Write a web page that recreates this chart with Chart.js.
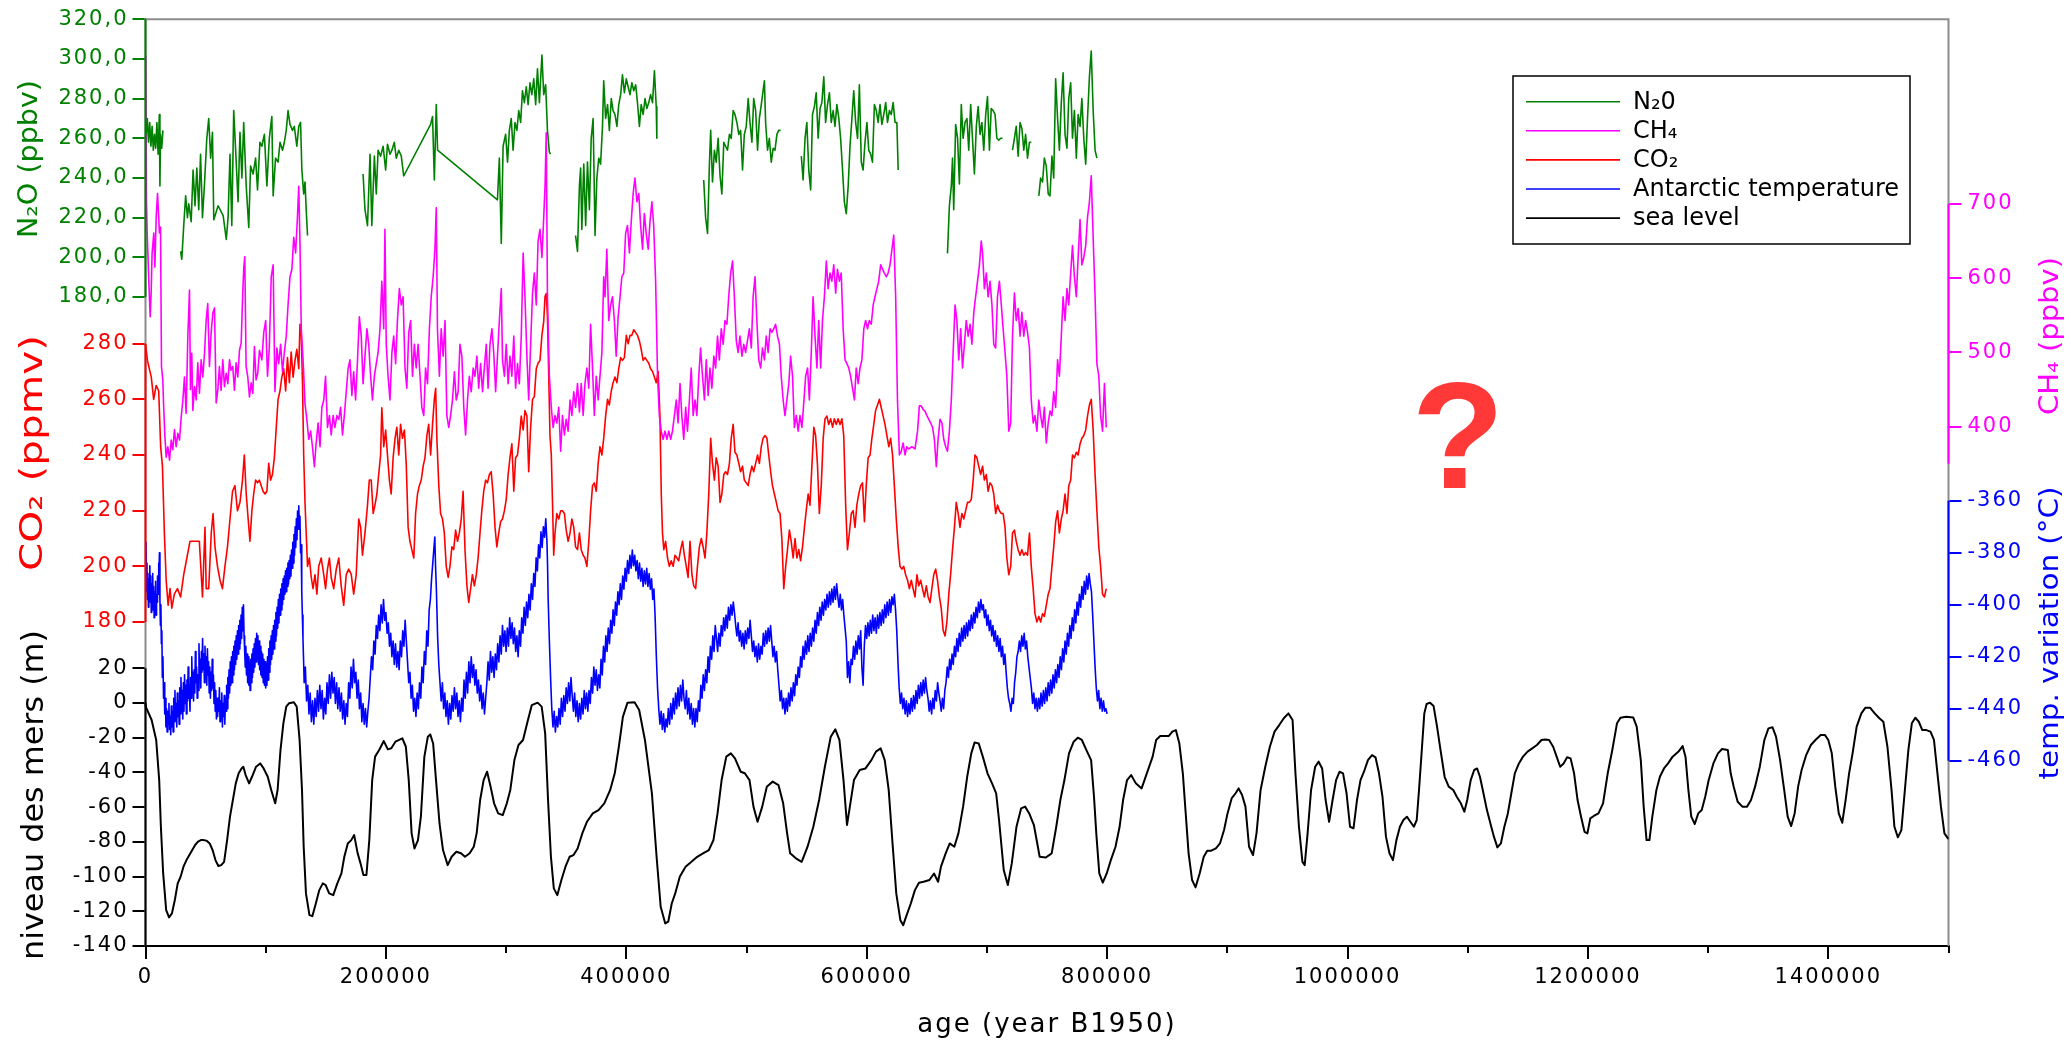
<!DOCTYPE html>
<html>
<head>
<meta charset="utf-8">
<script src="https://cdn.jsdelivr.net/npm/chart.js@4.4.1/dist/chart.umd.min.js"></script>
<style>
html,body{margin:0;padding:0;background:#ffffff;}
#wrap{width:2071px;height:1042px;position:relative;}
</style>
</head>
<body>
<div id="wrap"><canvas id="c"></canvas></div>
<script>
// ---------- series labels ----------
const seriesLabels = ['N\u20820', 'CH\u2084', 'CO\u2082', 'Antarctic temperature', 'sea level'];

// ---------- tick labels ----------
const n2oTicks = [180, 200, 220, 240, 260, 280, 300, 320];
const co2Ticks = [180, 200, 220, 240, 260, 280];
const seaTicks = [-140, -120, -100, -80, -60, -40, -20, 0, 20];
const ch4Ticks = [400, 500, 600, 700];
const tempTicks = [-460, -440, -420, -400, -380, -360];
const ageMajorTicks = [0, 200000, 400000, 600000, 800000, 1000000, 1200000, 1400000];
const ageMinorTicks = [0, 100000, 200000, 300000, 400000, 500000, 600000, 700000, 800000, 900000, 1000000, 1100000, 1200000, 1300000, 1400000, 1500000];

// ---------- series values: [age (kyr B1950), value] ----------
const n2oPoints = [
[0.5,262],[1.5,270],[2.5,258],[3.5,268],[4.5,256],[5.5,266],[6.5,254],[7.5,262],[8.5,255],[9.5,268],[10.5,252],[11.5,272],[12,236],[12.5,262],[13.5,255],[14.5,264],
[20,null],
[29.2,203],[30.2,199],[31.8,216],[33.4,231],[34.9,220],[36,227],[38,218],[39.6,244],[41.2,226],[42.7,245],[44.3,224],[45.8,252],[47.4,220],[49,236],[51,260],[52.6,270],[54.2,250],[55.7,263],[56.8,219],[60.4,226],[64.6,221],[67.2,209],[68.7,220],[70.3,252],[71.8,216],[73.4,274],[75,254],[77,228],[78.6,263],[80.2,240],[81.7,268],[83.8,236],[85.9,215],[87.4,246],[89.5,242],[91.6,250],[93.2,234],[95.2,258],[96.8,256],[98.9,262],[101,236],[103,260],[105.1,271],[106.2,231],[108.2,250],[110.3,248],[111.9,258],[114,254],[115.5,258],[117.1,264],[118.6,274],[120.2,267],[122.3,264],[123.8,266],[125.9,256],[127.5,266],[129,268],[130.1,244],[131.6,232],[132.7,238],[133.7,224],[134.8,211],
[150,null],
[181,242],[182.6,224],[184.7,216],[186.8,252],[188.3,216],[190.4,251],[192,232],[193.5,254],[195.6,251],[197.7,256],[199.8,244],[201.3,257],[203.4,252],[205,254],[207,258],[208.6,250],[210.7,254],[212.8,251],[214.8,241],[237.2,267],[238.8,271],[240.3,239],[241.9,277],[243,254],[292.8,229],[294.4,250],[296,207],[297.5,256],[299.6,262],[301.2,248],[302.7,264],[304.3,270],[305.8,254],[307.4,268],[309,264],[310.5,274],[312.1,268],[313.6,284],[315.2,278],[316.8,286],[318.3,277],[319.9,288],[321.4,282],[323,290],[324.6,277],[326.1,295],[327.7,278],[329.8,302],[331.3,282],[332.9,287],[334.4,264],[336,253],[337,252],
[345,null],
[357.8,211],[359.4,203],[361,236],[362,245],[363,214],[364.6,247],[366.2,216],[367.7,248],[369.3,224],[370.8,260],[372.4,270],[374,211],[375.5,240],[377.1,250],[378.6,247],[380.2,266],[381.2,289],[382.8,270],[384.4,277],[385.9,264],[387.5,280],[389,274],[390.6,272],[392.2,266],[393.7,277],[395.3,282],[396.8,292],[398.4,283],[400,290],[401.5,286],[403.1,282],[404.6,288],[406.2,284],[407.8,287],[409.3,278],[410.9,266],[412.4,277],[414,272],[415.6,280],[417.1,275],[418.7,278],[420.2,282],[421.8,278],[423.4,294],[424.9,276],[425.4,260],
[445,null],
[464.4,239],[466,220],[467.6,212],[469.1,246],[470.2,264],[471.7,238],[473.3,254],[474.8,248],[476.4,260],[478,241],[479.5,232],[481.1,258],[482.6,256],[484.2,254],[485.8,262],[487.3,260],[488.9,274],[490.4,272],[492,268],[493.6,262],[495.1,264],[496.7,244],[498.2,262],[499.8,266],[501.4,280],[502.9,268],[504.5,258],[506,280],[507.6,274],[509.2,254],[510.7,270],[512.3,277],[513.8,284],[514.9,289],[515.9,268],[517.5,254],[519,260],[520.6,248],[522.2,255],[523.7,254],[525.3,262],[526.8,264],[528.4,264],
[537,null],
[545.6,251],[547.1,239],[548.7,260],[550.2,268],[551.8,244],[553.4,234],[554.9,272],[556.5,276],[558,283],[559.6,260],[561.2,275],[562.7,278],[564.3,291],[565.8,268],[567.4,277],[569,283],[570.5,268],[572.1,274],[573.6,266],[575.2,277],[576.8,270],[578.3,260],[579.9,244],[581.4,228],[583,222],[584.6,236],[586.1,256],[587.7,270],[589.2,284],[590.8,268],[592.4,260],[593.9,287],[595.5,248],[597,244],[598.6,258],[600.2,268],[601.7,254],[603.3,252],[604.8,248],[606.4,277],[608,274],[609.5,268],[611.1,277],[612.6,267],[614.2,272],[615.8,278],[617.3,268],[618.9,274],[620.4,272],[622,278],[623.6,268],[625.1,268],[626.2,244],
[645,null],
[667.2,202],[668.8,226],[670.4,236],[671.4,250],[672.4,224],[674,267],[675.6,260],[677.1,237],[678.7,277],[680.2,260],[681.8,268],[683.4,270],[684.9,254],[686.5,277],[688,260],[689.6,242],[691.2,266],[692.7,276],[694.3,262],[695.8,268],[697.4,254],[699,272],[700.5,281],[702.1,254],[703.6,275],[705.2,274],[706.8,272],[708.3,260],[709.9,259],[711.4,260],[713,260],
[717,null],
[721.3,254],[722.9,260],[724.4,266],[726,251],[727.6,268],[729.1,265],[730.7,254],[732.2,262],[733.8,250],[735.4,258],[736.9,258],
[740,null],
[743.2,231],[744.7,240],[746.3,238],[747.8,250],[749.4,246],[751,232],[752.5,231],[754.1,251],[755.6,240],[757.2,290],[758.8,270],[760.3,254],[761.9,278],[763.4,293],[765,262],[766.6,255],[768.1,280],[769.7,288],[771.2,260],[772.8,274],[774.4,250],[775.9,272],[777.5,266],[779,280],[780.6,260],[782.2,247],[783.7,270],[785.3,291],[786.8,304],[788.4,274],[790,254],[791.5,250]
];

const ch4Points = [
[0.2,900],[0.8,705],[1.4,661],[2.8,594],[3.9,548],[4.7,580],[5.5,634],[6.9,661],[7.8,615],[8.9,683],[10,714],[10.8,688],[11.6,661],[12.5,669],[13.3,481],[14.4,463],[15,432],[16,391],[17.2,359],[18.6,373],[20,355],[21.4,382],[22.7,369],[24.1,396],[25.5,373],[26.9,391],[28.3,382],[29.7,413],[31.1,436],[32.4,467],[33.8,418],[35.2,521],[36.6,584],[37.4,450],[38.5,499],[39.4,422],[40.8,454],[42.2,436],[43.5,486],[44.9,445],[46.3,490],[47.7,467],[49.1,499],[50.5,544],[51.8,566],[53.2,481],[54.6,526],[56,553],[57.4,560],[58.8,432],[60.2,450],[61.5,481],[62.9,449],[64.3,490],[65.7,454],[67.1,472],[68.5,458],[69.9,490],[71.2,476],[72.6,481],[74,449],[75.4,486],[76.8,467],[78.2,503],[79.6,513],[80.9,580],[81.8,615],[82.6,629],[83.7,481],[85.1,467],[86.5,440],[87.9,459],[89.3,445],[90.6,508],[92,463],[93.4,472],[94.8,503],
[96.8,490],[98.4,527],[100,543],[101.5,468],[103,506],[104.6,602],[106.2,618],[107.7,447],[109.3,506],[110.8,485],[112.4,511],[114,474],[115.5,500],[117.1,522],[118.6,564],[120.2,602],[121.8,612],[123.3,655],[124.9,634],[126.4,682],[127.5,724],[128.5,650],[129.6,532],[131.1,490],[132.7,431],[134.2,410],[135.8,383],[137.4,394],[138.9,373],[140.5,346],[142,378],[143.6,405],[145.2,373],[146.7,426],[148.3,436],[149.8,468],[151.4,399],[153,415],[154.5,389],[156.1,415],[157.6,399],[159.2,415],[160.8,410],[162.3,426],[163.9,389],[165.4,415],[167,447],[168.6,479],[170.1,490],[171.7,442],[173.2,474],[174.8,436],[176.4,490],[177.9,548],[179.5,522],[181,458],[182.6,495],[184.2,532],[185.7,511],[187.3,468],[188.8,436],[190.4,468],[192,485],[193.5,500],[195.1,532],[196.6,596],[198.2,532],[199.2,666],[200.3,511],[201.8,468],[203.4,436],[205,500],[206.5,522],[208.1,485],[209.6,543],[211.2,586],[212.8,564],[214.3,575],[215.9,479],[217.4,452],[219,527],[220.6,543],[222.1,468],[223.7,511],[225.2,479],[226.8,511],[228.4,468],[229.9,426],[231.5,415],[233,479],[234.6,458],[236.2,532],[237.7,575],[239.3,602],[240.8,639],[241.9,695],[242.9,532],[244.5,468],[246,532],[247.6,495],[249.2,543],[250.7,415],[252.3,399],[253.8,415],[255.4,436],[257,474],[258.5,436],[260.1,447],[261.6,511],[263.2,495],[264.8,426],[266.3,389],[267.9,436],[269.4,468],[271,447],[272.6,479],[274.1,468],[275.7,495],[277.2,452],[278.8,485],[280.4,447],[281.9,479],[283.5,511],[285,452],[286.6,511],[288.2,532],[289.7,500],[291.3,447],[292.8,495],[294.4,543],[296,586],[297,490],[298.6,468],[300.1,511],[301.7,458],[303.2,495],[304.8,468],[306.4,522],[307.9,452],[309.5,485],[311,458],[312.6,522],[314.2,634],[315.7,575],[317.3,495],[318.8,436],[320.4,511],[322,580],[323.5,607],[325.1,564],[326.6,650],[328.2,666],[329.8,628],[331.3,682],[332.4,724],[333.4,796],[334.4,575],[336,468],[337.6,426],[339.1,399],[340.7,415],[342.2,405],[343.8,426],[345.4,367],[346.9,415],[348.5,389],[350,410],[351.6,394],[353.2,436],[354.7,415],[356.3,447],[357.8,426],[359.4,458],[361,420],[362.5,458],[364.1,415],[365.6,458],[367.2,479],[368.8,452],[370.3,538],[371.9,479],[373.4,415],[375,468],[376.6,436],[378.1,468],[379.7,500],[381.2,602],[382.3,575],[383.8,639],[385.4,543],[387,564],[388.5,575],[390.1,543],[391.6,495],[393.2,548],[394.8,575],[396.3,602],[397.9,607],[399.4,660],[401,671],[402.6,634],[404.1,676],[405.7,714],[407.2,735],[408.8,703],[410.4,714],[411.9,671],[413.5,639],[415,687],[416.6,660],[418.2,639],[419.7,676],[421.3,703],[422.8,671],[424.4,596],[426,468],[427.5,415],[429.1,394],[430.6,383],[432.2,394],[433.8,383],[435.3,394],[436.9,383],[438.4,394],[440,415],[441.6,436],[443.1,405],[444.7,458],[446.2,415],[447.8,383],[449.4,426],[450.9,394],[452.5,436],[454,479],[455.6,415],[457.2,436],[458.7,415],[460.3,468],[461.8,506],[463.4,468],[465,436],[466.5,490],[468.1,442],[469.6,479],[471.2,452],[472.8,495],[474.3,479],[475.9,522],[477.4,490],[479,532],[480.6,511],[482.1,543],[483.7,538],[485.2,575],[486.8,607],[488.4,623],[489.9,575],[491.5,516],[493,500],[494.6,522],[496.2,495],[497.7,511],[499.3,500],[500.8,516],[502.4,532],[504,506],[505.5,575],[507.1,602],[508.6,543],[510.2,490],[511.8,479],[513.3,506],[514.9,490],[516.4,522],[518,500],[519.6,532],[521.1,527],[522.7,532],[524.2,538],[525.8,522],[527.4,511],[528.9,468],[530.5,436],[532,415],[533.6,436],[535.2,458],[536.7,495],[538.3,468],[539.8,399],[541.4,415],[543,394],[544.5,415],[546.1,399],[547.6,431],[549.2,468],[550.8,479],[552.3,436],[553.9,500],[555.4,575],[557,522],[558.6,479],[560.1,543],[561.7,479],[563.2,543],[564.8,575],[566.4,623],[567.9,586],[569.5,607],[571,596],[572.6,618],[574.2,580],[575.7,612],[577.3,596],[578.8,607],[580.4,532],[582,490],[583.5,485],[585.1,479],[586.6,468],[588.2,452],[589.8,436],[591.3,479],[592.9,458],[594.4,479],[596,490],[597.6,532],[599.1,543],[600.7,532],[602.2,543],[603.8,538],[605.4,564],[606.9,575],[608.5,586],[610,596],[611.6,618],[613.2,612],[614.7,607],[616.3,602],[617.8,607],[619.4,618],[621,639],[622.5,658],[624.1,575],[625.6,436],[627.2,362],[628.8,367],[630.3,378],[631.9,362],[633.4,373],[635,370],[637.6,373],[640.2,370],[642.3,394],[643.8,428],[645.4,428],[647,423],[648.5,421],[650.1,415],[651.6,410],[653.2,405],[654.8,399],[656.3,383],[657.9,346],[659.4,383],[661,410],[662.6,405],[664.1,383],[665.7,373],[667.2,367],[668.8,394],[670.4,436],[671.9,500],[673.5,564],[675,543],[676.6,490],[678.2,532],[679.7,479],[681.3,511],[682.8,543],[684.4,522],[686,538],[687.5,511],[689.1,554],[690.6,575],[692.2,596],[693.8,618],[695.3,650],[696.4,634],[697.9,586],[699.5,607],[701,575],[702.6,596],[704.2,564],[705.7,511],[707.3,506],[708.8,575],[710.4,596],[712,564],[713.5,532],[715.1,500],[716.6,468],[718.2,394],[719.8,405],[721.3,522],[722.9,580],[724.4,543],[726,559],[727.6,522],[729.1,554],[730.7,522],[732.2,543],[733.8,527],[735.4,506],[736.9,436],[738.5,405],[740,415],[741.6,394],[743.2,436],[744.7,415],[746.3,399],[747.8,426],[749.4,378],[751,405],[752.5,421],[754.1,415],[755.6,447],[757.2,426],[758.8,490],[760.3,468],[761.9,522],[763.4,575],[765,543],[766.6,586],[768.1,564],[769.7,607],[771.2,644],[772.8,602],[774.4,575],[775.9,628],[777.5,679],[779,618],[780.6,628],[782.2,644],[783.7,682],[785.3,703],[786.8,738],[788.4,655],[790,575],[791.5,485],[793.1,468],[794.6,415],[796.2,394],[797.8,458],[799.3,399]
];

const co2Points = [
[0,279.8],[1.6,274],[4.8,268],[6.8,260],[8.9,265],[11,263],[12.6,243],[14.1,236],[15.7,212],[17.2,195],[18.8,186],[20.4,192],[21.9,185],[24,190],[26.6,192],[29.2,189],[31.8,197],[34.4,203],[37,209],[39.6,209],[42.2,209],[44.8,209],[47.4,189],[49.5,214],[50.5,192],[52.6,192],[54.7,212],[56.2,219],[57.8,207],[59.9,200],[62,195],[64,192],[66.1,200],[68.2,207],[70.3,217],[72.4,227],[74.4,229],[76.5,220],[78.6,223],[80.7,231],[82.2,240],[83.8,226],[85.4,217],[86.9,209],[88.5,220],[90,226],[91.6,231],[93.2,230],[94.7,231],[96.3,229],[97.8,227],[99.4,226],[101,227],[102.5,237],[104.1,231],[105.6,233],[107.2,239],[108.8,250],[110.3,260],[111.9,263],[113.4,268],[115,271],[116.6,263],[118.1,275],[119.7,266],[121.2,277],[122.8,268],[124.4,274],[125.9,278],[127.5,271],[128.5,287],[129.6,283],[130.6,266],[131.6,240],[132.7,223],[133.7,212],[134.8,200],[136.3,203],[137.9,196],[139.4,192],[141,197],[142.6,190],[144.1,200],[146.2,203],[148.3,197],[149.8,192],[151.4,199],[153,203],[154.5,196],[156.6,192],[158.7,199],[160.8,203],[162.8,193],[164.9,186],[167,197],[169.1,199],[171.2,197],[173.2,190],[175.3,197],[177.4,217],[179,214],[180.5,204],[182.6,212],[184.7,222],[186.2,231],[187.8,231],[189.4,219],[190.9,222],[192.5,226],[194,233],[195.6,240],[196.6,257],[198.2,243],[199.8,249],[201.3,240],[202.9,231],[204.4,226],[206,239],[207.6,246],[209.1,250],[210.7,240],[212.2,251],[213.8,246],[215.4,249],[216.9,237],[218.5,214],[220,209],[221.6,206],[223.2,203],[224.7,219],[226.3,226],[227.8,229],[229.4,231],[231,236],[232.5,239],[234.1,247],[235.6,251],[237.2,240],[238.8,251],[240.3,260],[241.4,264],[242.4,246],[244,229],[245.5,219],[247.1,217],[248.6,212],[250.2,200],[251.8,196],[253.3,200],[254.9,207],[256.4,206],[258,213],[259.6,209],[261.1,212],[262.7,217],[264.2,227],[265.8,206],[267.4,193],[268.9,187],[270.5,192],[272,197],[273.6,193],[275.2,197],[276.7,203],[278.3,212],[279.8,220],[281.4,227],[283,231],[284.5,230],[286.1,233],[287.6,234],[289.2,226],[290.8,214],[292.3,207],[293.9,212],[295.4,216],[297,217],[298.6,220],[300.1,224],[301.7,233],[303.2,239],[304.8,244],[306.4,227],[307.9,239],[309.5,240],[311,246],[312.6,254],[314.2,249],[315.7,256],[317.3,254],[318.8,234],[320.4,250],[322,260],[323.5,261],[325.1,271],[326.6,273],[328.2,274],[329.8,283],[331.3,288],[332.4,297],[333.4,298],[334.4,290],[335.5,268],[336.5,247],[337.6,240],[338.6,223],[339.6,204],[340.7,212],[342.2,219],[343.8,217],[345.4,220],[346.9,220],[348.5,219],[350,213],[351.6,209],[353.2,212],[354.7,217],[356.3,214],[357.8,207],[359.4,206],[361,212],[362.5,206],[364.1,204],[365.6,203],[367.2,200],[368.8,209],[370.3,220],[371.9,229],[373.4,230],[375,227],[376.6,237],[378.1,243],[379.7,240],[381.2,246],[382.8,254],[384.4,260],[385.9,258],[387.5,263],[389,266],[390.6,268],[392.2,266],[393.7,271],[395.3,275],[396.8,274],[398.4,275],[400,283],[401.5,280],[403.1,283],[404.6,283],[406.2,285],[407.8,284],[409.3,283],[410.9,281],[412.4,278],[414,274],[415.6,275],[417.1,274],[418.7,273],[420.2,271],[421.8,270],[423.4,268],[424.9,266],[426.5,270],[428,254],[429.1,226],[430.1,212],[431.2,206],[432.7,209],[434.3,203],[435.8,200],[437.4,202],[439,200],[440.5,204],[442.1,203],[443.6,202],[445.2,206],[446.8,209],[448.3,204],[449.9,200],[451.4,196],[453,209],[454.6,197],[456.1,193],[457.7,192],[459.2,200],[460.8,207],[462.4,210],[463.9,207],[465.5,203],[467,212],[468.6,226],[470.2,246],[471.7,237],[473.3,231],[474.8,239],[476.4,236],[478,223],[479.5,226],[481.1,233],[482.6,234],[484.2,233],[485.8,237],[487.3,246],[488.9,251],[490.4,241],[492,240],[493.6,237],[495.1,234],[496.7,236],[498.2,231],[499.8,230],[501.4,229],[502.9,233],[504.5,236],[506,234],[507.6,237],[509.2,240],[510.7,237],[512.3,243],[513.8,246],[515.4,247],[517,246],[518.5,240],[520.1,234],[521.6,229],[523.2,226],[524.8,223],[526.3,220],[527.9,219],[529.4,210],[531,192],[532.6,200],[534.1,206],[535.7,213],[537.2,209],[538.8,203],[540.4,210],[541.9,203],[543.5,206],[545,202],[546.6,207],[548.2,214],[549.7,220],[551.3,226],[552.8,222],[554.4,236],[556,250],[557.5,247],[559.1,236],[560.6,219],[562.2,229],[563.8,246],[565.3,253],[566.9,254],[568.4,251],[570,253],[571.6,250],[573.1,253],[574.7,251],[576.2,253],[577.8,251],[579.4,253],[580.9,247],[582.5,222],[584,206],[585.6,212],[587.2,219],[588.7,220],[590.3,214],[591.8,222],[593.4,226],[595,229],[596.5,230],[598.1,216],[599.6,229],[601.2,239],[602.8,240],[604.3,246],[605.9,251],[607.4,256],[609,258],[610.6,260],[612.1,257],[613.7,254],[615.2,251],[616.8,247],[618.4,243],[619.9,246],[621.5,240],[623,229],[624.6,217],[626.2,207],[627.7,200],[629.3,199],[630.8,200],[632.4,197],[634,195],[635.5,192],[637.1,195],[638.6,192],[640.2,189],[641.8,197],[643.3,193],[644.9,195],[646.4,192],[648,189],[649.6,193],[651.1,189],[652.7,187],[654.2,192],[655.8,197],[657.4,199],[658.9,195],[660.5,189],[662,185],[663.6,177],[665.2,175],[666.7,180],[668.3,190],[669.8,197],[671.4,206],[673,214],[674.5,223],[676.1,219],[677.6,214],[679.2,219],[680.8,217],[682.3,220],[683.9,223],[685.4,223],[687,224],[688.6,231],[690.1,240],[691.7,239],[693.2,236],[694.8,233],[696.4,236],[697.9,231],[699.5,233],[701,227],[702.6,230],[704.2,229],[705.7,226],[707.3,219],[708.8,222],[710.4,220],[712,219],[713.5,219],[715.1,214],[716.6,203],[718.2,197],[719.8,200],[721.3,212],[722.9,213],[724.4,209],[726,206],[727.6,204],[729.1,206],[730.7,204],[732.2,205],[733.8,204],[735.4,212],[736.9,200],[738.5,192],[740,183],[741.6,180],[743.2,182],[744.7,180],[746.3,183],[747.8,182],[749.4,186],[751,190],[752.5,192],[754.1,200],[755.6,207],[757.2,216],[758.8,220],[760.3,212],[761.9,217],[763.4,220],[765,226],[766.6,219],[768.1,229],[769.7,231],[771.2,240],[772.8,239],[774.4,241],[775.9,240],[777.5,244],[779,246],[780.6,247],[782.2,249],[783.7,254],[785.3,258],[786.8,260],[788.4,249],[790,233],[791.5,220],[793.1,207],[794.6,200],[796.2,190],[797.8,189],[799.3,192]
];

const tempPoints = [
[0.1,-386],[0.4,-376],[0.8,-395],[1.2,-384],[1.6,-398],[2,-388],[2.4,-401],[2.8,-390],[3.2,-397],[3.6,-385],[4,-399],[4.4,-389],[4.8,-403],[5.2,-392],[5.6,-400],[6,-388],[6.4,-402],[6.8,-393],[7.2,-405],[7.6,-395],[8,-401],[8.4,-391],[8.8,-404],[9.2,-396],[9.6,-399],[10,-389],[10.4,-396],[10.8,-384],[11.2,-392],[11.6,-380],[12,-398],[12.4,-408],[12.8,-400],[13.2,-415],[13.6,-410],[14,-428],[14.5,-420],[15,-436],[15.5,-430],[16,-442],[16.5,-436],[17,-447],[17.5,-440],[18,-449],[18.5,-441],[19,-446],[19.5,-438],[20,-448],[20.5,-443],[21,-450],[21.5,-439],[22,-447],[22.5,-441],[23,-449],[23.5,-436],[24,-445],[24.5,-433],[25,-444],[25.5,-438],[26,-447],[26.5,-434],[27,-443],[27.5,-437],[28,-446],[28.5,-432],[29,-442],[29.5,-428],[30,-440],[30.5,-433],[31,-444],[31.5,-430],[32,-441],[32.5,-427],[33,-438],[33.5,-431],[34,-442],[34.5,-429],[35,-437],[35.5,-424],[36,-436],[36.5,-431],[37,-441],[37.5,-428],[38,-436],[38.5,-420],[39,-432],[39.5,-426],[40,-437],[40.5,-425],[41,-434],[41.5,-418],[42,-430],[42.5,-424],[43,-436],[43.5,-427],[44,-433],[44.5,-415],[45,-428],[45.5,-421],[46,-432],[46.5,-418],[47,-426],[47.5,-413],[48,-425],[48.5,-419],[49,-430],[49.5,-416],[50,-428],[50.5,-420],[51,-431],[51.5,-417],[52,-427],[52.5,-422],[53,-434],[53.5,-424],[54,-436],[54.5,-426],[55,-433],[55.5,-421],[56,-432],[56.5,-427],[57,-438],[57.5,-430],[58,-441],[58.5,-433],[59,-444],[59.5,-436],
[60,-443],[60.5,-436],[61,-441],[61.5,-432],[62,-445],[62.5,-437],[63,-442],[63.5,-434],[64,-447],[64.5,-438],[65,-443],[65.5,-435],[66,-446],[66.5,-436],[67,-441],[67.5,-431],[68,-440],[68.5,-428],[69,-436],[69.5,-425],[70,-434],[70.5,-422],[71,-431],[71.5,-420],[72,-430],[72.5,-418],[73,-427],[73.5,-416],[74,-425],[74.5,-414],[75,-423],[75.5,-412],[76,-421],[76.5,-410],[77,-419],[77.5,-408],[78,-417],[78.5,-406],[79,-415],[79.5,-404],[80,-413],[80.5,-401],[81,-410],[81.5,-400],[82,-412],[82.5,-418],[83,-424],[83.5,-416],[84,-427],[84.5,-419],[85,-430],[85.5,-420],[86,-431],[86.5,-422],[87,-433],[87.5,-421],[88,-430],[88.5,-419],[89,-428],[89.5,-417],[90,-426],[90.5,-415],[91,-424],[91.5,-413],[92,-422],[92.5,-411],[93,-421],[93.5,-412],[94,-423],[94.5,-414],[95,-425],[95.5,-416],[96,-427],[96.5,-418],[97,-428],[97.5,-419],[98,-430],[98.5,-421],[99,-431],[99.5,-422],[100,-432],[100.5,-423],[101,-431],[101.5,-420],[102,-429],[102.5,-417],[103,-426],[103.5,-414],[104,-423],[104.5,-412],[105,-421],[105.5,-410],[106,-419],[106.5,-408],[107,-417],[107.5,-406],[108,-414],[108.5,-403],[109,-412],[109.5,-401],[110,-409],[110.5,-398],[111,-407],[111.5,-396],[112,-404],[112.5,-394],[113,-402],[113.5,-392],[114,-400],[114.5,-390],[115,-398],[115.5,-389],[116,-396],[116.5,-387],[117,-395],[117.5,-386],[118,-393],[118.5,-384],[119,-392],[119.5,-383],[120,-390],[120.5,-381],[121,-389],[121.5,-379],[122,-386],[122.5,-376],[123,-384],[123.5,-373],[124,-381],[124.5,-370],[125,-378],[125.5,-367],[126,-375],[126.5,-364],[127,-371],[127.5,-362],[128,-369],[128.5,-366],[129,-380],[129.5,-377],[130,-395],[130.5,-404],[131,-413],[131.5,-421],[132,-430],[133,-424],[134,-437],[135,-431],[136,-442],[137,-434],[138,-445],[139,-437],[140,-446],[141,-436],[142,-443],[143,-433],[144,-441],[145,-431],[146,-440],[147,-433],[148,-444],[149,-436],[150,-442],[151,-430],[152,-438],[153,-427],[154,-436],[155,-426],[156,-434],[157,-428],[158,-438],[159,-430],[160,-440],[161,-432],[162,-441],[163,-434],[164,-444],[165,-437],[166,-446],[167,-438],[168,-443],[169,-430],[170,-436],[171,-424],[172,-432],[173,-421],[174,-430],[175,-426],[176,-436],[177,-429],[178,-440],[179,-434],[180,-445],[181,-438],[182,-446],[183,-440],[184,-447],[185,-441],[186,-436],[187,-428],[188,-420],[189,-425],[190,-414],[191,-419],[192,-408],[193,-413],[194,-404],[195,-410],[196,-400],[197,-407],[198,-398],[199,-406],[200,-403],[201,-411],[202,-407],[203,-416],[204,-411],[205,-420],[206,-414],[207,-423],[208,-415],[209,-424],[210,-418],[211,-425],[212,-414],[213,-420],[214,-410],[215,-416],[216,-406],[217,-414],[218,-422],[219,-430],[220,-426],[221,-436],[222,-431],[223,-441],[224,-436],[225,-443],[226,-434],[227,-440],[228,-430],[229,-436],[230,-424],[231,-430],[232,-418],[233,-423],[234,-410],[235,-416],[236,-402],[237,-398],[238,-390],[239,-384],[240,-378],[240.7,-374],[241.3,-385],[242,-394],[243,-412],[244,-423],[245,-430],[246,-437],[247,-430],[248,-440],[249,-434],[250,-443],[251,-437],[252,-446],[253,-438],[254,-444],[255,-435],[256,-441],[257,-432],[258,-440],[259,-434],[260,-443],[261,-437],[262,-445],[263,-436],[264,-441],[265,-429],[266,-436],[267,-426],[268,-434],[269,-422],[270,-430],[271,-420],[272,-428],[273,-423],[274,-431],[275,-425],[276,-434],[277,-429],[278,-437],[279,-431],[280,-440],[281,-434],[282,-442],[283,-436],[284,-430],[285,-422],[286,-429],[287,-418],[288,-426],[289,-420],[290,-428],[291,-419],[292,-425],[293,-415],[294,-422],[295,-412],[296,-419],[297,-408],[298,-416],[299,-410],[300,-418],[301,-409],[302,-416],[303,-405],[304,-413],[305,-407],[306,-415],[307,-409],[308,-418],[309,-412],[310,-420],[311,-410],[312,-416],[313,-405],[314,-411],[315,-401],[316,-408],[317,-399],[318,-405],[319,-396],[320,-402],[321,-392],[322,-398],[323,-388],[324,-393],[325,-382],[326,-387],[327,-377],[328,-382],[329,-372],[330,-378],[331,-370],[332,-374],[333,-367],[334,-376],[334.5,-385],[335,-398],[336,-414],[337,-428],[338,-440],[339,-447],[340,-441],[341,-449],[342,-443],[343,-447],[344,-440],[345,-446],[346,-436],[347,-443],[348,-435],[349,-441],[350,-432],[351,-438],[352,-430],[353,-437],[354,-428],[355,-435],[356,-441],[357,-434],[358,-443],[359,-437],[360,-445],[361,-438],[362,-444],[363,-436],[364,-442],[365,-433],[366,-440],[367,-434],[368,-441],[369,-433],[370,-438],[371,-428],[372,-434],[373,-424],[374,-431],[375,-425],[376,-433],[377,-427],[378,-432],[379,-421],[380,-427],[381,-416],[382,-422],[383,-412],[384,-418],[385,-409],[386,-415],[387,-406],[388,-411],[389,-402],[390,-408],[391,-399],[392,-404],[393,-395],[394,-400],[395,-392],[396,-398],[397,-389],[398,-394],[399,-386],[400,-391],[401,-383],[402,-388],[403,-381],[404,-386],[405,-379],[406,-385],[407,-381],[408,-387],[409,-383],[410,-390],[411,-384],[412,-391],[413,-386],[414,-393],[415,-387],[416,-392],[417,-386],[418,-393],[419,-388],[420,-394],[421,-390],[422,-398],[423,-394],[424,-405],[425,-420],[426,-432],[427,-440],[428,-446],[429,-441],[430,-448],[431,-442],[432,-449],[433,-444],[434,-447],[435,-440],[436,-446],[437,-438],[438,-444],[439,-436],[440,-442],[441,-434],[442,-440],[443,-432],[444,-439],[445,-431],[446,-437],[447,-429],[448,-436],[449,-440],[450,-433],[451,-442],[452,-436],[453,-444],[454,-438],[455,-446],[456,-440],[457,-447],[458,-440],[459,-445],[460,-437],[461,-441],[462,-431],[463,-436],[464,-427],[465,-433],[466,-425],[467,-430],[468,-420],[469,-426],[470,-416],[471,-421],[472,-412],[473,-418],[474,-408],[475,-413],[476,-418],[477,-411],[478,-416],[479,-408],[480,-412],[481,-405],[482,-410],[483,-404],[484,-409],[485,-401],[486,-406],[487,-400],[488,-404],[489,-399],[490,-403],[491,-408],[492,-412],[493,-407],[494,-414],[495,-410],[496,-416],[497,-411],[498,-417],[499,-410],[500,-415],[501,-409],[502,-413],[503,-406],[504,-412],[505,-418],[506,-414],[507,-420],[508,-416],[509,-422],[510,-415],[511,-421],[512,-416],[513,-419],[514,-411],[515,-416],[516,-410],[517,-415],[518,-409],[519,-414],[520,-408],[521,-414],[522,-420],[523,-416],[524,-422],[525,-418],[526,-425],[527,-431],[528,-437],[529,-433],[530,-440],[531,-436],[532,-442],[533,-436],[534,-441],[535,-434],[536,-439],[537,-432],[538,-437],[539,-430],[540,-435],[541,-427],[542,-431],[543,-424],[544,-428],[545,-420],[546,-424],[547,-416],[548,-421],[549,-414],[550,-419],[551,-412],[552,-418],[553,-411],[554,-416],[555,-409],[556,-414],[557,-406],[558,-411],[559,-403],[560,-408],[561,-401],[562,-406],[563,-399],[564,-404],[565,-398],[566,-402],[567,-396],[568,-401],[569,-395],[570,-400],[571,-394],[572,-399],[573,-393],[574,-398],[575,-392],[576,-397],[577,-401],[578,-396],[579,-402],[580,-398],[581,-404],[582,-409],[583,-414],[584,-428],[585,-422],[586,-430],[587,-421],[588,-423],[589,-416],[590,-421],[591,-414],[592,-419],[593,-412],[594,-417],[595,-410],[596,-424],[597,-431],[598,-416],[599,-408],[600,-413],[601,-407],[602,-412],[603,-406],[604,-411],[605,-404],[606,-410],[607,-405],[608,-411],[609,-404],[610,-409],[611,-403],[612,-408],[613,-402],[614,-407],[615,-400],[616,-405],[617,-399],[618,-404],[619,-398],[620,-403],[621,-397],[622,-400],[623,-396],[624,-402],[625,-410],[626,-422],[627,-432],[628,-438],[629,-434],[630,-440],[631,-436],[632,-442],[633,-437],[634,-443],[635,-438],[636,-442],[637,-436],[638,-441],[639,-435],[640,-440],[641,-433],[642,-438],[643,-431],[644,-436],[645,-430],[646,-435],[647,-429],[648,-434],[649,-428],[650,-433],[651,-436],[652,-441],[653,-437],[654,-442],[655,-436],[656,-440],[657,-433],[658,-437],[659,-430],[660,-434],[661,-437],[662,-441],[663,-436],[664,-440],[665,-433],[666,-430],[667,-424],[668,-428],[669,-421],[670,-425],[671,-419],[672,-423],[673,-416],[674,-420],[675,-413],[676,-418],[677,-411],[678,-416],[679,-409],[680,-414],[681,-408],[682,-413],[683,-407],[684,-412],[685,-406],[686,-410],[687,-404],[688,-409],[689,-403],[690,-407],[691,-401],[692,-405],[693,-399],[694,-403],[695,-398],[696,-402],[697,-400],[698,-405],[699,-402],[700,-408],[701,-404],[702,-410],[703,-406],[704,-412],[705,-408],[706,-414],[707,-410],[708,-416],[709,-412],[710,-418],[711,-413],[712,-420],[713,-416],[714,-423],[715,-419],[716,-426],[717,-432],[718,-436],[719,-438],[720,-441],[721,-436],[722,-438],[723,-430],[724,-426],[725,-420],[726,-418],[727,-414],[728,-418],[729,-412],[730,-416],[731,-411],[732,-417],[733,-414],[734,-420],[735,-424],[736,-428],[737,-432],[738,-438],[739,-434],[740,-440],[741,-436],[742,-441],[743,-436],[744,-440],[745,-434],[746,-439],[747,-433],[748,-438],[749,-432],[750,-437],[751,-430],[752,-435],[753,-429],[754,-434],[755,-427],[756,-432],[757,-425],[758,-430],[759,-423],[760,-428],[761,-420],[762,-425],[763,-417],[764,-422],[765,-414],[766,-419],[767,-411],[768,-416],[769,-408],[770,-413],[771,-405],[772,-410],[773,-402],[774,-407],[775,-399],[776,-404],[777,-396],[778,-401],[779,-393],[780,-398],[781,-391],[782,-396],[783,-389],[784,-394],[785,-388],[786,-392],[787,-395],[788,-404],[789,-414],[790,-424],[791,-432],[792,-437],[793,-433],[794,-440],[795,-436],[796,-441],[797,-437],[798,-441],[799,-440],[800,-442]
];

const seaPoints = [
[0,-0.5],[0.2,-2.1],[5.1,-9.8],[8.9,-21.3],[11.4,-44.4],[12.8,-71.3],[14.7,-98.2],[17.2,-119.3],[19.6,-123.5],[22,-121.2],[24.4,-113.5],[26.8,-103.9],[29.2,-100.1],[31.6,-94.3],[34.1,-90.5],[36.5,-87.6],[38.9,-84.7],[41.3,-81.8],[43.7,-79.9],[46.1,-79],[48.5,-79],[50.9,-79.3],[53.4,-80.9],[55.8,-84.7],[58.2,-90.5],[60.6,-93.9],[63,-93.4],[65.4,-91.5],[67.9,-79],[70.3,-65.5],[72.7,-55.9],[75.1,-46.3],[77.5,-40.5],[79.9,-37.7],[81.4,-36.7],[83.3,-41.5],[86.2,-46.3],[88.6,-42.5],[92,-36.7],[95.4,-34.8],[98.3,-37.7],[101.7,-42.5],[104.6,-50.1],[107.9,-57.8],[109.9,-50.1],[112.3,-27.1],[114.7,-11.7],[117.1,-2.1],[119.5,-0.1],[123.4,0.4],[125.8,-2.1],[128.2,-21.3],[130.2,-50.1],[131.6,-82.8],[133.5,-109.7],[136.4,-122.2],[138.8,-122.8],[141.7,-115.5],[144.6,-107.8],[147.5,-103.9],[149.9,-104.9],[152.8,-109.7],[156.2,-110.7],[159.6,-103.9],[163,-98.2],[165.4,-88.6],[168.3,-80.9],[171.2,-79],[173.6,-76.1],[176.5,-86.6],[178.9,-92.4],[181.3,-99.1],[183.8,-99.1],[186.2,-79],[188.6,-44.4],[191,-30.9],[194.4,-27.1],[198.2,-21.9],[201.6,-26.7],[204.5,-26.1],[207.9,-22.3],[213.7,-20.4],[216.6,-25.2],[219,-44.4],[221.4,-75.1],[223.8,-83.8],[226.7,-79],[229.1,-65.5],[232,-30.9],[234.9,-19.4],[236.9,-18.1],[239.3,-23.3],[241.7,-44.4],[244.6,-69.4],[247.5,-84.7],[251.4,-93.4],[254.7,-88.6],[258.6,-85.7],[262.5,-86.6],[265.8,-88.6],[269.7,-86.6],[273.1,-82.8],[275.5,-75.1],[278.4,-55.9],[281.3,-44.4],[284.2,-39.6],[287.1,-48.2],[290,-57.8],[293.4,-63.6],[297.2,-64.6],[300.6,-57.8],[303.5,-50.1],[306.9,-32.9],[310.3,-24.2],[314.1,-21.3],[317.5,-11.7],[321.4,-1.2],[326.2,0.2],[329.6,-2.1],[332.5,-17.5],[334.9,-55.9],[337.3,-88.6],[339.7,-106.8],[342.6,-110.7],[346,-102],[349.4,-94.3],[352.8,-88.6],[356.1,-87.6],[359.5,-83.8],[363.4,-75.1],[367.3,-68.4],[372.1,-63.6],[376.9,-61.7],[381.7,-57.8],[386.6,-50.1],[390.4,-40.5],[393.8,-25.2],[397.2,-7.9],[401,0.2],[406.9,0.4],[410.7,-4],[415.5,-21.3],[421.3,-52],[425.2,-88.6],[428.6,-117.4],[432.4,-127],[434.9,-126],[437.8,-115.5],[440.7,-109.7],[444.5,-100.1],[449.3,-94.3],[454.2,-91.5],[459,-88.6],[463.8,-86.6],[468.7,-84.7],[472.5,-79],[475.9,-63.6],[479.3,-44.4],[483.2,-30.9],[487,-29],[490.4,-31.9],[495.2,-39.6],[498.6,-40.5],[502.5,-44.4],[505.8,-59.7],[509.2,-68.4],[513.1,-59.7],[516.9,-48.2],[521.8,-45.3],[526.6,-47.3],[530.5,-57.8],[533.8,-75.1],[536.3,-86.6],[541.1,-89.5],[545.9,-91.5],[550.8,-82.8],[555.6,-71.3],[560.4,-55.9],[565.2,-36.7],[570.1,-19.4],[573.9,-15.2],[577.3,-21.3],[580.7,-44.4],[583.6,-70.3],[586,-59.7],[589.4,-44.4],[594.2,-38.6],[599,-37.7],[603.9,-32.9],[607.7,-28],[611.6,-26.1],[615,-32.9],[618.3,-50.1],[621.7,-82.8],[624.6,-109.7],[628,-125.1],[630.4,-128],[632.8,-123.1],[636.7,-115.5],[640.1,-107.8],[643.5,-103.5],[647.3,-103],[652.2,-102],[656,-98.2],[659.4,-103],[661.8,-94.3],[665.7,-86.6],[669.1,-80.9],[672.9,-82.8],[676.3,-75.1],[680.2,-59.7],[683.6,-42.5],[687,-29],[689.8,-22.7],[693.2,-23.3],[696.6,-30.9],[700.5,-40.5],[704.3,-46.3],[707.7,-52],[710.1,-67.4],[714,-96.2],[717.4,-104.9],[720.7,-92.4],[724.6,-71.3],[728.5,-60.7],[731.8,-59.7],[735.2,-63.6],[739.1,-70.3],[743.9,-88.6],[749,-89],[753.9,-86.6],[757.7,-71.3],[761.1,-55.9],[764.5,-44.4],[768.3,-29],[772.2,-22.3],[775.6,-20],[779,-21.3],[782.8,-27.1],[786.7,-32.9],[789.1,-54],[791,-75.1],[793.5,-98.2],[796.4,-103.5],[799.7,-98.2],[803.1,-90.5],[807,-82.8],[810.4,-71.3],[813.3,-55.9],[816.6,-44.4],[820,-41.5],[823.9,-46.3],[828.7,-49.2],[831.1,-44.4],[834.5,-37.7],[837.9,-30.9],[840.8,-21.3],[844.2,-19],[848,-19],[851.4,-19],[854.3,-16.5],[857.2,-15.6],[860.1,-23.3],[863,-40.5],[865.4,-63.6],[867.8,-86.6],[870.7,-102],[873.6,-106.2],[877,-98.2],[880.4,-88.6],[883.3,-85.1],[886.7,-85.1],[890.5,-83.8],[893.9,-80.9],[897.3,-73.2],[900.2,-63.6],[903.6,-55],[906.9,-52],[909.4,-49.2],[912.3,-53],[915.1,-59.7],[918.1,-82.8],[921.4,-87.6],[924.3,-75.1],[927.7,-50.1],[931.6,-36.7],[935.4,-25.2],[939.3,-16.5],[943.2,-12.7],[947,-8.8],[950.9,-6],[954.3,-9.8],[956.7,-40.5],[959.6,-71.3],[962.5,-91.5],[964.4,-93.4],[966.8,-75.1],[969.7,-50.1],[973.1,-36.7],[976,-33.8],[978.9,-37.7],[981.8,-55.9],[984.7,-68.4],[987.6,-55.9],[990.5,-44.4],[993.4,-39.6],[996.3,-40.5],[999.2,-52],[1002.1,-71.3],[1005,-72.2],[1007.9,-55.9],[1010.8,-44.4],[1013.7,-39.6],[1017,-32.9],[1020.4,-30],[1023.3,-31.3],[1026.2,-40.5],[1029.1,-54],[1032,-77],[1034.9,-86.6],[1037.8,-90.5],[1040.7,-79],[1043.6,-71.3],[1046.5,-67.4],[1049.4,-65.5],[1052.3,-68.4],[1055.2,-71.3],[1057.6,-67.4],[1059.5,-50.1],[1062,-25.2],[1063.9,-6],[1065.8,-0.6],[1068.7,0.2],[1071.6,-1.7],[1074.5,-13.6],[1077.4,-27.1],[1080.8,-42.5],[1084.2,-48.2],[1088,-50.1],[1090.9,-54],[1094.3,-57.8],[1097.2,-62.6],[1099.6,-55.9],[1102.5,-44.4],[1105.4,-38.6],[1107.8,-37.7],[1110.2,-42.5],[1113.1,-52],[1116,-61.7],[1118.9,-69.4],[1121.8,-77],[1124.7,-83.2],[1127.6,-80.9],[1130.5,-71.3],[1133.4,-63.6],[1136.3,-52],[1139.2,-40.5],[1142.6,-34.8],[1146,-30.9],[1149.8,-28],[1153.7,-26.1],[1157.6,-24.2],[1161.4,-21.3],[1164.3,-21],[1167.7,-21.3],[1171.1,-25.2],[1174,-30.9],[1176.9,-36.7],[1179.8,-34.8],[1182.7,-31.3],[1185.6,-31.9],[1188.5,-40.5],[1191.4,-55.9],[1194.3,-65.5],[1197.2,-74.2],[1199.6,-75.1],[1202,-66.5],[1204.9,-65.1],[1208.8,-63.6],[1212.6,-57.8],[1216.5,-40.5],[1220.3,-27.1],[1224.2,-11.7],[1227.1,-8.5],[1231.9,-7.9],[1237.7,-8.3],[1240.6,-13.6],[1244,-32.9],[1246.4,-59.7],[1248.8,-79],[1251.2,-79],[1253.6,-65.5],[1257,-50.1],[1259.9,-42.5],[1263.3,-37.7],[1266.7,-34.8],[1270.5,-30.9],[1275.4,-28],[1278.8,-24.8],[1281.2,-30.9],[1283.6,-50.1],[1286,-65.5],[1288.9,-69.7],[1291.8,-63.6],[1294.7,-61.7],[1297.6,-54],[1300.5,-44.4],[1304.4,-34.8],[1308.2,-29],[1311.6,-26.5],[1316.4,-27.1],[1318.8,-40.5],[1321.3,-48.2],[1324.6,-56.9],[1328.5,-59.7],[1332.4,-59.7],[1335.7,-55.9],[1339.1,-48.2],[1343,-36.7],[1346.8,-21.3],[1350.2,-14.6],[1353.6,-14],[1356.5,-19.4],[1359.9,-32.9],[1363.3,-50.1],[1366.2,-65.5],[1369.1,-70.9],[1372,-63.6],[1374.9,-48.2],[1377.8,-38.6],[1381.6,-30],[1385.5,-24.2],[1389.3,-21.3],[1393.7,-18.4],[1397.1,-18.4],[1400,-21.3],[1402.9,-29],[1405.8,-48.2],[1408.7,-63.6],[1411.6,-69],[1414.4,-55.9],[1417.3,-40.5],[1420.2,-29],[1423.6,-13.6],[1427.5,-6],[1430.9,-2.7],[1434.7,-2.7],[1438.6,-6],[1442.5,-8.8],[1445.8,-10.8],[1449.2,-25.2],[1452.6,-50.1],[1455,-71.3],[1457.9,-77.4],[1460.8,-73.2],[1463.7,-50.1],[1466.6,-27.1],[1469.5,-11.7],[1472.4,-8.5],[1475.3,-10.8],[1478.2,-15.6],[1481.6,-15.6],[1485,-16.5],[1487.9,-21.3],[1490.8,-40.5],[1493.7,-59.7],[1496.6,-75.1],[1499.5,-78],[1500,-78]
];

// ---------- styles ----------
const FONT = 'DejaVu Sans';
const C_N2O = '#008000', C_CH4 = '#ff00ff', C_CO2 = '#ff0000', C_TEMP = '#0000ff', C_SEA = '#000000';
const FRAME = '#8c8c8c';

const toXY = pts => pts.map(p => ({ x: p[0] * 1000, y: p[1] }));
const fixTicks = arr => (s => { s.ticks = arr.map(v => ({ value: v })); });

function yScale(o) {
  return {
    type: 'linear', position: o.pos, stack: o.pos, stackWeight: o.sw, weight: o.w,
    min: o.min, max: o.max,
    afterBuildTicks: fixTicks(o.ticks),
    afterFit: s => { s.width = o.width; },
    ticks: { font: { family: FONT, size: 21 }, color: o.color, padding: o.pos === 'left' ? 4 : 6,
             autoSkip: false, includeBounds: false, callback: o.fmt || (v => String(v)) },
    grid: { display: true, drawOnChartArea: false, drawTicks: true, tickLength: 13, tickWidth: 2, lineWidth: 2, tickColor: o.color, color: o.color },
    border: { display: false }
  };
}

const axisSpans = [
  { id: 'n2o', from: 180, to: 320, color: C_N2O, side: 'left' },
  { id: 'co2', from: 180, to: 280, color: C_CO2, side: 'left' },
  { id: 'sea', from: -140, to: 20, color: C_SEA, side: 'left' },
  { id: 'ch4', from: 350, to: 700, color: C_CH4, side: 'right' },
  { id: 'temp', from: -460, to: -360, color: C_TEMP, side: 'right' }
];

function drawVText(ctx, text, baseX, centerY, size, color, length) {
  ctx.save();
  ctx.font = size + 'px "' + FONT + '"';
  const w = ctx.measureText(text).width;
  ctx.translate(baseX, centerY);
  ctx.rotate(-Math.PI / 2);
  ctx.scale(length / w, 1);
  ctx.fillStyle = color;
  ctx.textAlign = 'center';
  ctx.textBaseline = 'alphabetic';
  ctx.fillText(text, 0, 0);
  ctx.restore();
}

const decor = {
  id: 'decor',
  beforeDraw(chart) { try { chart.ctx.letterSpacing = '2px'; } catch (e) {} },
  beforeDatasetsDraw(chart) {
    const ctx = chart.ctx; const a = chart.chartArea;
    try { ctx.letterSpacing = '0px'; } catch (e) {}
    ctx.save();
    ctx.strokeStyle = FRAME; ctx.lineWidth = 2;
    ctx.beginPath();
    ctx.moveTo(a.left, a.bottom); ctx.lineTo(a.left, a.top); ctx.lineTo(a.right, a.top); ctx.lineTo(a.right, a.bottom);
    ctx.stroke();
    ctx.restore();
  },
  afterDatasetsDraw(chart) {
    const ctx = chart.ctx; const a = chart.chartArea;
    ctx.save();
    ctx.lineWidth = 2;
    axisSpans.forEach(s => {
      const sc = chart.scales[s.id];
      const x = s.side === 'left' ? a.left : a.right;
      ctx.strokeStyle = s.color;
      ctx.beginPath();
      ctx.moveTo(x, sc.getPixelForValue(s.from));
      ctx.lineTo(x, sc.getPixelForValue(s.to));
      ctx.stroke();
    });
    ctx.restore();
  },
  afterDraw(chart) {
    const ctx = chart.ctx;
    try { ctx.letterSpacing = '0px'; } catch (e) {}
    // axis titles
    drawVText(ctx, 'N\u2082O (ppbv)', 36.5, 159, 26.5, C_N2O, 158);
    drawVText(ctx, 'CO\u2082 (ppmv)', 42, 453, 32, C_CO2, 236);
    drawVText(ctx, 'niveau des mers (m)', 43, 795, 30, C_SEA, 330);
    drawVText(ctx, 'CH\u2084 (ppbv)', 2057.5, 336, 26.5, C_CH4, 158);
    drawVText(ctx, 'temp. variation (\u00B0C)', 2057.5, 633, 26.5, C_TEMP, 293);
    // legend
    ctx.save();
    const L = { x: 1513, y: 76, w: 397, h: 168, x0: 1526, x1: 1620, tx: 1633, y0: 101.7, dy: 29.1 };
    ctx.fillStyle = '#ffffff';
    ctx.fillRect(L.x, L.y, L.w, L.h);
    ctx.strokeStyle = '#000000'; ctx.lineWidth = 1.5;
    ctx.strokeRect(L.x, L.y, L.w, L.h);
    ctx.font = '24px "' + FONT + '"';
    ctx.textBaseline = 'middle'; ctx.textAlign = 'left';
    chart.data.datasets.forEach((ds, i) => {
      const y = L.y0 + i * L.dy;
      ctx.strokeStyle = ds.borderColor; ctx.lineWidth = 1.6;
      ctx.beginPath(); ctx.moveTo(L.x0, y); ctx.lineTo(L.x1, y); ctx.stroke();
      ctx.fillStyle = '#000000';
      ctx.fillText(ds.label, L.tx, y + 1);
    });
    ctx.restore();
    // question mark
    ctx.save();
    ctx.font = 'bold 152px "Liberation Sans"';
    ctx.fillStyle = '#ff3838';
    ctx.textAlign = 'center'; ctx.textBaseline = 'alphabetic';
    ctx.fillText('?', 1458, 488);
    ctx.restore();
  }
};

const lineDs = (label, pts, axis, color, width) => ({
  label, data: toXY(pts), yAxisID: axis, borderColor: color, backgroundColor: color,
  borderWidth: width, pointRadius: 0, pointHoverRadius: 0, tension: 0, spanGaps: false,
  fill: false, clip: false, borderJoinStyle: 'round'
});

Chart.defaults.font.family = FONT;

new Chart(document.getElementById('c'), {
  type: 'line',
  data: {
    datasets: [
      lineDs(seriesLabels[0], n2oPoints, 'n2o', C_N2O, 1.6),
      lineDs(seriesLabels[1], ch4Points, 'ch4', C_CH4, 1.6),
      lineDs(seriesLabels[2], co2Points, 'co2', C_CO2, 1.6),
      lineDs(seriesLabels[3], tempPoints, 'temp', C_TEMP, 1.6),
      lineDs(seriesLabels[4], seaPoints, 'sea', C_SEA, 2)
    ]
  },
  options: {
    responsive: true, maintainAspectRatio: false, animation: false, devicePixelRatio: 1,
    layout: { padding: { top: 19.3, left: 0, right: 0, bottom: 0 } },
    plugins: { legend: { display: false }, tooltip: { enabled: false }, title: { display: false } },
    events: [],
    scales: {
      x: {
        type: 'linear', position: 'bottom', weight: 1, min: 0, max: 1500000,
        afterBuildTicks: fixTicks(ageMajorTicks),
        afterFit: s => { s.height = 96; },
        ticks: { font: { family: FONT, size: 21 }, color: '#000', padding: 6, autoSkip: false, maxRotation: 0, includeBounds: false, callback: v => String(v) },
        grid: { display: true, drawOnChartArea: false, drawTicks: true, tickLength: 13, tickWidth: 2, lineWidth: 2, tickColor: '#000' },
        border: { display: true, color: '#000', width: 2 },
        title: { display: true, text: 'age (year B1950)', font: { family: FONT, size: 26 }, color: '#000', padding: { top: 0, bottom: 1 } }
      },
      xMinor: {
        type: 'linear', position: 'bottom', weight: 0, min: 0, max: 1500000,
        afterBuildTicks: fixTicks(ageMinorTicks),
        afterFit: s => { s.height = 0; },
        ticks: { display: false },
        grid: { display: true, drawOnChartArea: false, drawTicks: true, tickLength: 7, tickWidth: 2, lineWidth: 2, tickColor: '#000' },
        border: { display: false }
      },
      n2o: yScale({ pos: 'left', sw: 277.7, w: 3, min: 180, max: 320, ticks: n2oTicks, width: 145.5, color: C_N2O, fmt: v => v.toFixed(1).replace('.', ',') }),
      co2: yScale({ pos: 'left', sw: 348, w: 2, min: 171.74, max: 296.78, ticks: co2Ticks, width: 145.5, color: C_CO2 }),
      sea: yScale({ pos: 'left', sw: 301, w: 1, min: -140, max: 33.42, ticks: seaTicks, width: 145.5, color: C_SEA }),
      ch4: yScale({ pos: 'right', sw: 462.7, w: 1, min: 325.5, max: 948.8, ticks: ch4Ticks, width: 122.5, color: C_CH4 }),
      temp: yScale({ pos: 'right', sw: 464, w: 2, min: -531.3, max: -352.8, ticks: tempTicks, width: 122.5, color: C_TEMP })
    }
  },
  plugins: [decor]
});
</script>
</body>
</html>
